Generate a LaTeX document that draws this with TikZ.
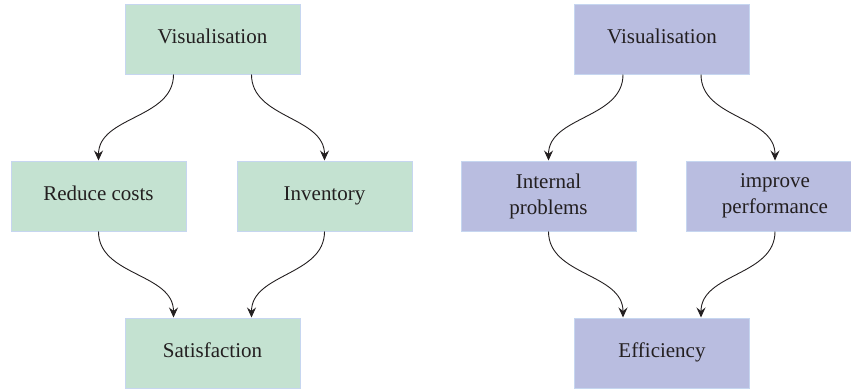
\documentclass[tikz,border=0pt]{standalone}
\usepackage{fontspec}
\setmainfont{Liberation Serif}
\usetikzlibrary{arrows.meta,calc}
\definecolor{gfill}{HTML}{C4E2D1}
\definecolor{pfill}{HTML}{B9BDE0}
\definecolor{bline}{HTML}{C6D6F0}
\definecolor{ink}{HTML}{231F20}
\tikzset{
  gbox/.style={draw=bline, line width=1pt, fill=gfill, minimum width=175pt, minimum height=70pt, inner sep=0pt, align=center, text=ink, font=\fontsize{21}{26}\selectfont},
  pbox/.style={gbox, fill=pfill},
  oneline/.style={text height=14pt, text depth=6pt},
  conn/.style={draw=ink, line width=0.9pt, -{Stealth[length=10pt,width=9pt,inset=3.5pt]}}
}
\begin{document}
\begin{tikzpicture}[x=1pt,y=1pt]
\clip (0,0) rectangle (851,-389);
\useasboundingbox (0,0) rectangle (851,-389);
% left diagram
\node[gbox,oneline] (lv) at (212.5,-39) {Visualisation};
\node[gbox,oneline] (lr) at (98.5,-196) {Reduce costs};
\node[gbox,oneline] (li) at (324.5,-196) {Inventory};
\node[gbox,oneline] (ls) at (212.5,-353) {Satisfaction};
\coordinate (lv1) at ($(lv.south)+(-39,0)$);
\coordinate (lv2) at ($(lv.south)+(39,0)$);
\coordinate (ls1) at ($(ls.north)+(-39,0)$);
\coordinate (ls2) at ($(ls.north)+(39,0)$);
\draw[conn] (lv1) to[out=-90,in=90] (lr.north);
\draw[conn] (lv2) to[out=-90,in=90] (li.north);
\draw[conn] (lr.south) to[out=-90,in=90] (ls1);
\draw[conn] (li.south) to[out=-90,in=90] (ls2);
% right diagram
\node[pbox,oneline] (rv) at (662,-39) {Visualisation};
\node[pbox] (rp) at (548.5,-196) {Internal\\problems};
\node[pbox, minimum width=178pt] (ri) at (775,-196) {improve\\performance};
\node[pbox,oneline] (re) at (662,-353) {Efficiency};
\coordinate (rv1) at ($(rv.south)+(-39,0)$);
\coordinate (rv2) at ($(rv.south)+(39,0)$);
\coordinate (re1) at ($(re.north)+(-39,0)$);
\coordinate (re2) at ($(re.north)+(39,0)$);
\draw[conn] (rv1) to[out=-90,in=90] (rp.north);
\draw[conn] (rv2) to[out=-90,in=90] (ri.north);
\draw[conn] (rp.south) to[out=-90,in=90] (re1);
\draw[conn] (ri.south) to[out=-90,in=90] (re2);
\end{tikzpicture}
\end{document}
